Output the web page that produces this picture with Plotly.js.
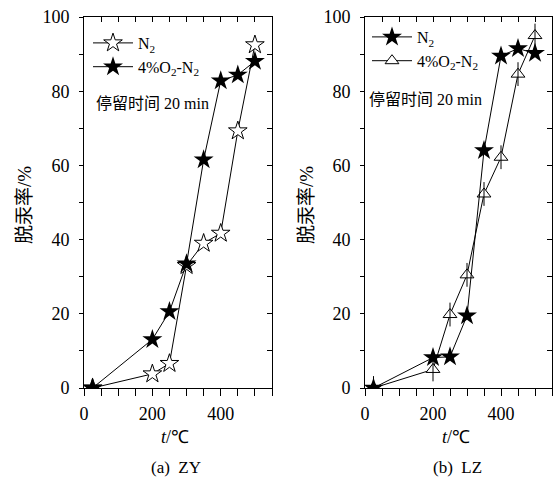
<!DOCTYPE html>
<html>
<head>
<meta charset="utf-8">
<script src="https://cdn.plot.ly/plotly-3.0.1.min.js"></script>
<style>html,body{margin:0;padding:0;background:#fff;}#chart{width:555px;height:478px;}</style>
</head>
<body>
<div id="chart"></div>
<script>
// ---- data ----
const temps = [25, 200, 250, 300, 350, 400, 450, 500];
const zyN2 = [0, 3.8, 6.6, 33, 39, 41.7, 69.3, 92.5];
const zyO2N2 = [0, 13.1, 20.6, 33.5, 61.5, 82.8, 84.4, 88.1];
const lzN2 = [0, 8.2, 8.4, 19.5, 64, 89.5, 91.5, 90.2];
const lzO2N2 = [0, 5, 19.8, 30.5, 52.3, 62.2, 84.6, 95];
const seriesNames = ['N<sub>2</sub>', '4%O<sub>2</sub>-N<sub>2</sub>'];
const xTickVals = [0, 200, 400];
const yTickVals = [0, 20, 40, 60, 80, 100];
const panelLabels = ['(a)\u00a0\u00a0ZY', '(b)\u00a0\u00a0LZ'];
const noteText = '停留时间 20\u00a0min';
const yTitle = '脱汞率/%';
const xTitle = '<i>t</i>/℃';

const serif = 'Liberation Serif, Times New Roman, serif';
const cjk = 'Liberation Serif, Noto Sans CJK SC, serif';

const lineStyle = {color: '#000', width: 1};
const traces = [
  // panel a
  {x: temps, y: zyN2, name: seriesNames[0], mode: 'lines+markers', xaxis: 'x', yaxis: 'y', legend: 'legend',
   line: lineStyle, marker: {symbol: 'star', size: 14, color: '#fff', line: {color: '#000', width: 1}}, legendrank: 1},
  {x: temps, y: zyO2N2, name: seriesNames[1], mode: 'lines+markers', xaxis: 'x', yaxis: 'y', legend: 'legend',
   line: lineStyle, marker: {symbol: 'star', size: 15, color: '#000', line: {color: '#000', width: 0}}, legendrank: 2},
  // panel b
  {x: temps, y: lzO2N2, name: seriesNames[1], mode: 'lines+markers', xaxis: 'x2', yaxis: 'y2', legend: 'legend2',
   line: lineStyle, marker: {symbol: 'triangle-up', size: 12, color: '#fff', line: {color: '#000', width: 1}}, legendrank: 2},
  {x: temps, y: lzO2N2, mode: 'markers', xaxis: 'x2', yaxis: 'y2', showlegend: false, hoverinfo: 'skip',
   marker: {symbol: 'line-ns-open', size: 17, color: '#000', line: {color: '#000', width: 1}}},
  {x: temps, y: lzN2, name: seriesNames[0], mode: 'lines+markers', xaxis: 'x2', yaxis: 'y2', legend: 'legend2',
   line: lineStyle, marker: {symbol: 'star', size: 15, color: '#000', line: {color: '#000', width: 0}}, legendrank: 1},
  // invisible helpers for mirrored inside-tick axes
  {x: temps, y: zyN2, mode: 'markers', xaxis: 'x3', yaxis: 'y3', showlegend: false, hoverinfo: 'skip', marker: {opacity: 0}},
  {x: temps, y: lzN2, mode: 'markers', xaxis: 'x4', yaxis: 'y4', showlegend: false, hoverinfo: 'skip', marker: {opacity: 0}}
];

const W = 555, H = 478;
const px = v => v / W, py = v => (H - v) / H;
const xDomA = [px(84), px(272)], xDomB = [px(365), px(552)];
const yDom = [py(388), py(17)];

function xMain(dom, anchor) {
  return {domain: dom, anchor: anchor, range: [0, 550], tickvals: xTickVals, ticks: 'outside', ticklen: 7, tickwidth: 1,
    tickcolor: '#000', showline: true, linecolor: '#000', linewidth: 1, showgrid: false, zeroline: false,
    tickfont: {family: serif, size: 18, color: '#000'}, ticklabelstandoff: 2,
    minor: {dtick: 50, ticks: 'outside', ticklen: 7, tickwidth: 1, tickcolor: '#000', showgrid: false}, fixedrange: true};
}
function yMain(dom, anchor) {
  return {domain: dom, anchor: anchor, range: [0, 100], tickvals: yTickVals, ticks: 'outside', ticklen: 4, tickwidth: 1,
    tickcolor: '#000', showline: true, linecolor: '#000', linewidth: 1, showgrid: false, zeroline: false,
    tickfont: {family: serif, size: 18, color: '#000'}, ticklabelstandoff: 6,
    minor: {dtick: 10, ticks: 'outside', ticklen: 4, tickwidth: 1, tickcolor: '#000', showgrid: false}, fixedrange: true};
}
function xTop(over, anchor) {
  return {overlaying: over, anchor: anchor, side: 'top', range: [0, 550], tickvals: xTickVals, ticks: 'inside', ticklen: 5,
    tickcolor: '#000', showline: true, linecolor: '#000', linewidth: 1, showgrid: false, zeroline: false, showticklabels: false,
    minor: {dtick: 50, ticks: 'inside', ticklen: 5, tickcolor: '#000', showgrid: false}, fixedrange: true};
}
function yRight(over, anchor) {
  return {overlaying: over, anchor: anchor, side: 'right', range: [0, 100], tickvals: yTickVals, ticks: 'inside', ticklen: 5,
    tickcolor: '#000', showline: true, linecolor: '#000', linewidth: 1, showgrid: false, zeroline: false, showticklabels: false,
    minor: {dtick: 10, ticks: 'inside', ticklen: 5, tickcolor: '#000', showgrid: false}, fixedrange: true};
}

const legendBase = {bgcolor: 'rgba(0,0,0,0)', borderwidth: 0, font: {family: serif, size: 16, color: '#000'},
  xanchor: 'left', yanchor: 'top', itemwidth: 40, tracegroupgap: 0};

function ann(text, x, y, font, extra) {
  return Object.assign({text: text, x: px(x), y: py(y), xref: 'paper', yref: 'paper', xanchor: 'center', yanchor: 'middle',
    showarrow: false, font: font}, extra || {});
}
const annotations = [
  ann(yTitle, 24, 205, {family: cjk, size: 19, color: '#000'}, {textangle: -90}),
  ann(yTitle, 306, 205, {family: cjk, size: 19, color: '#000'}, {textangle: -90}),
  ann(xTitle, 175, 437, {family: serif, size: 18, color: '#000'}),
  ann(xTitle, 456, 437, {family: serif, size: 18, color: '#000'}),
  ann(panelLabels[0], 176, 467, {family: serif, size: 17, color: '#000'}),
  ann(panelLabels[1], 457, 467, {family: serif, size: 17, color: '#000'}),
  ann(noteText, 94, 103, {family: cjk, size: 16, color: '#000'}, {xanchor: 'left'}),
  ann(noteText, 367, 99, {family: cjk, size: 16, color: '#000'}, {xanchor: 'left'})
];

const layout = {
  width: W, height: H, margin: {l: 0, r: 0, t: 0, b: 0}, paper_bgcolor: '#fff', plot_bgcolor: 'rgba(0,0,0,0)',
  showlegend: true,
  xaxis: xMain(xDomA, 'y'), yaxis: yMain(yDom, 'x'),
  xaxis2: xMain(xDomB, 'y2'), yaxis2: yMain(yDom, 'x2'),
  xaxis3: xTop('x', 'y'), yaxis3: yRight('y', 'x'),
  xaxis4: xTop('x2', 'y2'), yaxis4: yRight('y2', 'x2'),
  legend: Object.assign({}, legendBase, {x: px(88), y: py(26)}),
  legend2: Object.assign({}, legendBase, {x: px(367), y: py(20)}),
  annotations: annotations
};

Plotly.newPlot('chart', traces, layout, {displayModeBar: false, staticPlot: true});
</script>
</body>
</html>
